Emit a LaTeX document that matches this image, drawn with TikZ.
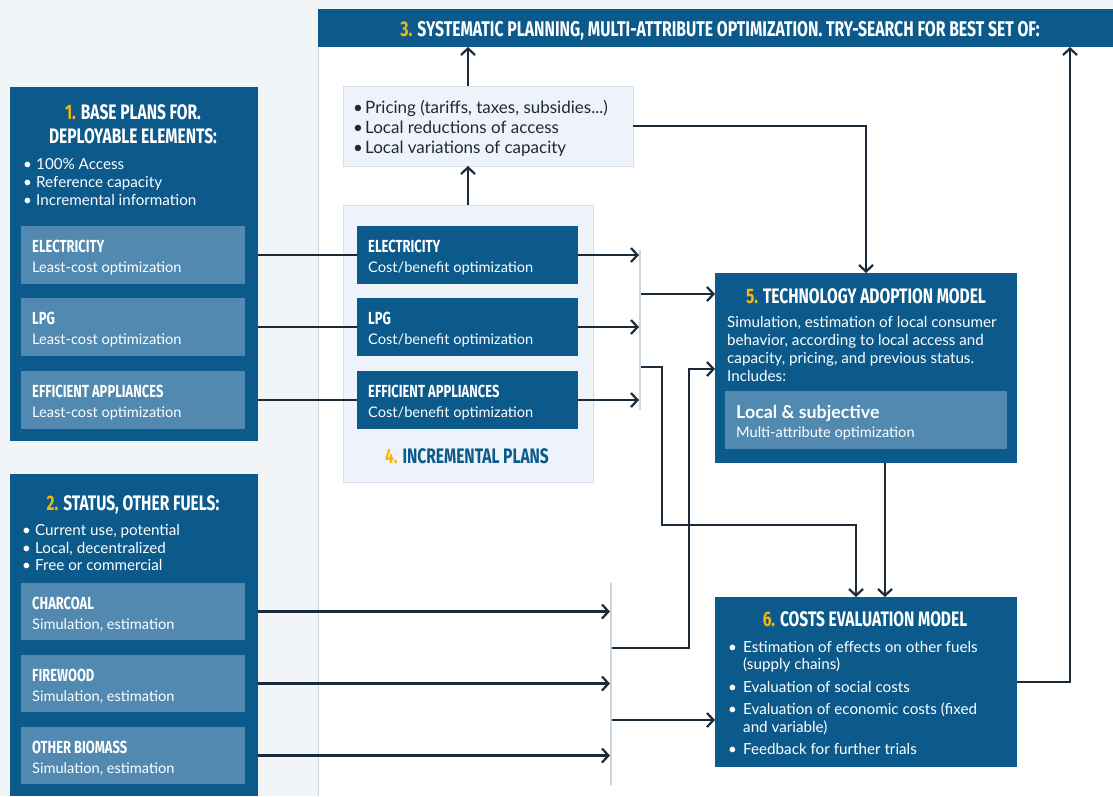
\documentclass[tikz,border=0pt]{standalone}
\usepackage{fontspec}
\setmainfont{Lato}
\newfontfamily\headfont{Fira Sans}[FakeStretch=0.74]
\usetikzlibrary{arrows.meta}

\definecolor{cbg}{HTML}{F2F5F8}
\definecolor{cdark}{HTML}{0B5A8B}
\definecolor{csub}{HTML}{5189B0}
\definecolor{cpanel}{HTML}{EDF3F8}
\definecolor{cpanelline}{HTML}{D5E0EA}
\definecolor{cline}{HTML}{1C2B39}
\definecolor{cgold}{HTML}{F5B50A}
\definecolor{cbar}{HTML}{CBD5DE}
\definecolor{ctext}{HTML}{1E2A36}

\newcommand{\goldnum}[1]{\textcolor{cgold}{#1}}
\newcommand{\bul}{\makebox[13pt][l]{•}}

\tikzset{
  box/.style={anchor=north west, inner sep=0pt, outer sep=0pt, draw=none},
  darkbox/.style={box, fill=cdark},
  subbox/.style={box, fill=csub},
  panel/.style={box, fill=cpanel, draw=cpanelline, line width=0.8pt},
  bar/.style={fill=cbar, draw=none, inner sep=0pt, outer sep=0pt, minimum width=2pt},
  ttl/.style={font=\headfont\bfseries\fontsize{21}{24}\selectfont, text=white, inner sep=0pt},
  hdr/.style={font=\headfont\bfseries\fontsize{21.3}{24}\selectfont, text=white, inner sep=0pt},
  subttl/.style={font=\headfont\bfseries\fontsize{17.5}{20}\selectfont, text=white, inner sep=0pt},
  body/.style={font=\fontsize{15.2}{18}\selectfont, text=white, inner sep=0pt},
  subbody/.style={font=\fontsize{14.6}{18}\selectfont, text=white, inner sep=0pt},
  panelbody/.style={font=\fontsize{17}{20}\selectfont, text=ctext, inner sep=0pt},
  ln/.style={draw=cline, line width=2.2pt},
  arr/.style={ln, -{Straight Barb[length=6.5pt,width=14pt,line width=2.2pt]}},
}

\begin{document}
\begin{tikzpicture}[x=1pt,y=-1pt]
  % canvas
  \fill[cbg] (0,0) rectangle (1113,796);
  \useasboundingbox (0,0) rectangle (1113,796);
  \fill[white] (318,9) rectangle (1113,796);
  \draw[cbar, line width=0.8pt] (318,47) -- (318,796);

  % 3. header
  \node[darkbox, minimum width=795pt, minimum height=38pt] (header) at (318,9) {};
  \node[hdr, anchor=base] (headertxt) at (720,36)
    {\goldnum{3.} SYSTEMATIC PLANNING, MULTI-ATTRIBUTE OPTIMIZATION. TRY-SEARCH FOR BEST SET OF:};

  % 1. base plans
  \node[darkbox, minimum width=248pt, minimum height=354pt] (box1) at (10,87) {};
  \node[ttl, anchor=base] (t1a) at (133,119) {\goldnum{1.} BASE PLANS FOR.};
  \node[ttl, anchor=base] (t1b) at (133,143) {DEPLOYABLE ELEMENTS:};
  \node[body, anchor=base west] (l1a) at (23,169) {\bul 100\% Access};
  \node[body, anchor=base west] (l1b) at (23,187) {\bul Reference capacity};
  \node[body, anchor=base west] (l1c) at (23,205) {\bul Incremental information};

  \node[subbox, minimum width=224pt, minimum height=58pt] (b1e) at (21,226) {};
  \node[subttl, anchor=base west] (b1et) at (32,252) {ELECTRICITY};
  \node[subbody, anchor=base west] (b1es) at (32,272) {Least-cost optimization};
  \node[subbox, minimum width=224pt, minimum height=58pt] (b1l) at (21,298) {};
  \node[subttl, anchor=base west] (b1lt) at (32,324) {LPG};
  \node[subbody, anchor=base west] (b1ls) at (32,344) {Least-cost optimization};
  \node[subbox, minimum width=224pt, minimum height=58pt] (b1a) at (21,371) {};
  \node[subttl, anchor=base west] (b1at) at (32,397) {EFFICIENT APPLIANCES};
  \node[subbody, anchor=base west] (b1as) at (32,417) {Least-cost optimization};

  % 2. status, other fuels
  \node[darkbox, minimum width=248pt, minimum height=322pt] (box2) at (10,474) {};
  \node[ttl, anchor=base] (t2) at (133,510) {\goldnum{2.} STATUS, OTHER FUELS:};
  \node[body, anchor=base west] (l2a) at (22,535) {\bul Current use, potential};
  \node[body, anchor=base west] (l2b) at (22,553) {\bul Local, decentralized};
  \node[body, anchor=base west] (l2c) at (22,570) {\bul Free or commercial};

  \node[subbox, minimum width=224pt, minimum height=57pt] (b2c) at (21,583) {};
  \node[subttl, anchor=base west] (b2ct) at (32,609) {CHARCOAL};
  \node[subbody, anchor=base west] (b2cs) at (32,629) {Simulation, estimation};
  \node[subbox, minimum width=224pt, minimum height=57pt] (b2f) at (21,655) {};
  \node[subttl, anchor=base west] (b2ft) at (32,681) {FIREWOOD};
  \node[subbody, anchor=base west] (b2fs) at (32,701) {Simulation, estimation};
  \node[subbox, minimum width=224pt, minimum height=57pt] (b2o) at (21,727) {};
  \node[subttl, anchor=base west] (b2ot) at (32,753) {OTHER BIOMASS};
  \node[subbody, anchor=base west] (b2os) at (32,773) {Simulation, estimation};

  % pricing options
  \node[panel, minimum width=290pt, minimum height=80pt] (pricing) at (343,86) {};
  \node[panelbody, anchor=base west] (p1) at (353,113) {\makebox[12pt][l]{•}Pricing (tariffs, taxes, subsidies...)};
  \node[panelbody, anchor=base west] (p2) at (353,133) {\makebox[12pt][l]{•}Local reductions of access};
  \node[panelbody, anchor=base west] (p3) at (353,153) {\makebox[12pt][l]{•}Local variations of capacity};

  % 4. incremental plans
  \node[panel, minimum width=250pt, minimum height=277pt] (incr) at (343,205) {};
  \node[darkbox, minimum width=221pt, minimum height=58pt] (i1) at (357,226) {};
  \node[subttl, anchor=base west] (i1t) at (368,252) {ELECTRICITY};
  \node[subbody, anchor=base west] (i1s) at (368,272) {Cost/benefit optimization};
  \node[darkbox, minimum width=221pt, minimum height=58pt] (i2) at (357,298) {};
  \node[subttl, anchor=base west] (i2t) at (368,324) {LPG};
  \node[subbody, anchor=base west] (i2s) at (368,344) {Cost/benefit optimization};
  \node[darkbox, minimum width=221pt, minimum height=58pt] (i3) at (357,371) {};
  \node[subttl, anchor=base west] (i3t) at (368,397) {EFFICIENT APPLIANCES};
  \node[subbody, anchor=base west] (i3s) at (368,417) {Cost/benefit optimization};
  \node[ttl, text=cdark, anchor=base] (t4) at (467,463) {\goldnum{4.} INCREMENTAL PLANS};

  % 5. technology adoption model
  \node[darkbox, minimum width=302pt, minimum height=190pt] (box5) at (715,273) {};
  \node[ttl, anchor=base] (t5) at (866,303) {\goldnum{5.} TECHNOLOGY ADOPTION MODEL};
  \node[body, anchor=base west] (l5a) at (727,327) {Simulation, estimation of local consumer};
  \node[body, anchor=base west] (l5b) at (727,345) {behavior, according to local access and};
  \node[body, anchor=base west] (l5c) at (727,363) {capacity, pricing, and previous status.};
  \node[body, anchor=base west] (l5d) at (727,381) {Includes:};
  \node[subbox, minimum width=282pt, minimum height=58pt] (s5) at (725,391) {};
  \node[body, font=\bfseries\fontsize{17.8}{20}\selectfont, anchor=base west] (s5t) at (736,418) {Local \& subjective};
  \node[subbody, anchor=base west] (s5s) at (736,437) {Multi-attribute optimization};

  % 6. costs evaluation model
  \node[darkbox, minimum width=302pt, minimum height=170pt] (box6) at (715,597) {};
  \node[ttl, anchor=base] (t6) at (865,626) {\goldnum{6.} COSTS EVALUATION MODEL};
  \node[body, anchor=base west] (l6a) at (728,652) {\makebox[15pt][l]{•}Estimation of effects on other fuels};
  \node[body, anchor=base west] (l6b) at (743,669) {(supply chains)};
  \node[body, anchor=base west] (l6c) at (728,692) {\makebox[15pt][l]{•}Evaluation of social costs};
  \node[body, anchor=base west] (l6d) at (728,714) {\makebox[15pt][l]{•}Evaluation of economic costs (fixed};
  \node[body, anchor=base west] (l6e) at (743,732) {and variable)};
  \node[body, anchor=base west] (l6f) at (728,754) {\makebox[15pt][l]{•}Feedback for further trials};

  % collector bars
  \node[bar, minimum height=160pt] (barA) at (640,330) {};
  \node[bar, minimum height=202pt] (barB) at (611,684) {};
  \coordinate (jA1) at (641,294);
  \coordinate (jA2) at (641,367);
  \coordinate (kA) at (662,525);
  \coordinate (jB1) at (612,648);
  \coordinate (kB) at (689,369);
  \coordinate (jB2) at (612,720);
  \coordinate (e6a) at (856,597);
  \coordinate (e6b) at (885,597);
  \coordinate (fb) at (1070,682);

  % connectors
  \draw[arr] (incr.north) -- (incr.north |- pricing.south);
  \draw[arr] (incr.north |- pricing.north) -- (incr.north |- header.south);
  \draw[arr] (pricing.east) -| (box5.north);

  \draw[ln] (b1e.east -| box1.east) -- (i1.west);
  \draw[ln] (b1l.east -| box1.east) -- (i2.west);
  \draw[ln] (b1a.east -| box1.east) -- (i3.west);
  \draw[arr] (i1.east) -- (i1.east -| barA.west);
  \draw[arr] (i2.east) -- (i2.east -| barA.west);
  \draw[arr] (i3.east) -- (i3.east -| barA.west);

  \draw[arr] (jA1) -- (jA1 -| box5.west);
  \draw[arr] (jA2) -| (kA) -| (e6a);
  \draw[arr] (e6b |- box5.south) -- (e6b);
  \draw[arr] (box6.east) -- (fb) -- (fb |- header.south);

  \draw[arr] (b2c.east -| box2.east) -- (b2c.east -| barB.west);
  \draw[arr] (b2f.east -| box2.east) -- (b2f.east -| barB.west);
  \draw[arr] (b2o.east -| box2.east) -- (b2o.east -| barB.west);
  \draw[arr] (jB1) -| (kB) -- (kB -| box5.west);
  \draw[arr] (jB2) -- (jB2 -| box6.west);
\end{tikzpicture}
\end{document}
